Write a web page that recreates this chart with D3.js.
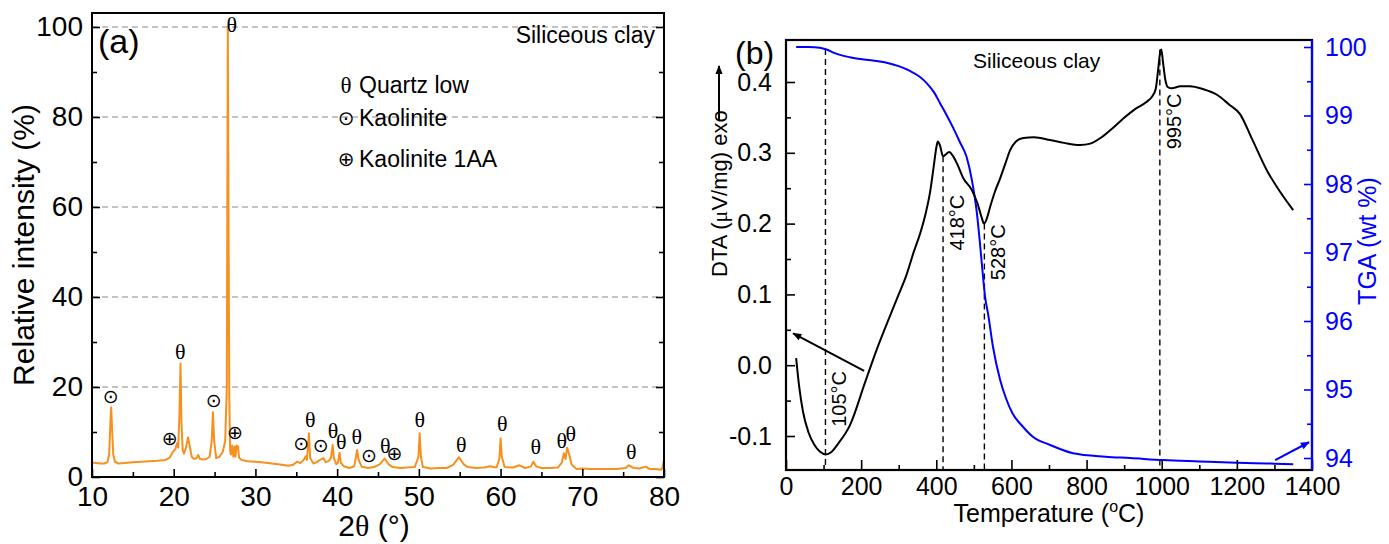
<!DOCTYPE html>
<html>
<head>
<meta charset="utf-8">
<script src="https://cdn.jsdelivr.net/npm/d3@7"></script>
<style>
body { margin: 0; background: #fff; }
svg { font-family: "Liberation Sans", Arial, sans-serif; }
</style>
</head>
<body>
<svg id="fig" width="1389" height="544"></svg>
<script>
// ---- (a) XRD pattern: [2theta, relative intensity]
const xrd = [[10.0,3.2],[10.5,3.1],[11.0,3.0],[11.5,3.0],[11.9,3.3],[12.1,5],[12.25,12],[12.35,15.5],[12.45,11],[12.6,5],[12.8,3.4],[13.2,3.0],
  [14,3.1],[15,3.3],[16,3.4],[17,3.5],[18,3.6],[19,3.8],[19.5,4.3],[19.9,5.6],[20.2,6.2],[20.4,7.5],[20.55,6.5],[20.7,14],[20.83,25.2],
  [20.95,12],[21.1,6],[21.25,5.2],[21.5,6.5],[21.75,8.8],[21.95,7],[22.2,4.5],[22.5,4.0],[22.8,4.2],[23.0,4.9],[23.2,4.0],[23.6,3.9],
  [24.0,4.0],[24.4,4.5],[24.65,8],[24.8,14.4],[24.95,8],[25.2,4.2],[25.6,4.5],[26.0,5.6],[26.3,8],[26.5,20],[26.62,100],[26.7,60],
  [26.8,18],[26.9,6],[27.0,5],[27.15,7],[27.3,4.5],[27.45,6.8],[27.55,4.5],[27.7,7],[27.85,6.8],[28.0,4.3],[28.3,3.8],[29,3.5],[30,3.4],
  [31,3.2],[32,3.0],[33,2.8],[34,2.5],[34.6,2.7],[35.1,3.4],[35.5,3.1],[35.9,3.8],[36.15,4.6],[36.3,3.8],[36.55,9.7],[36.7,4.2],[37.1,3.0],
  [37.5,3.3],[37.9,3.8],[38.3,4.2],[38.6,3.3],[39.0,3.6],[39.25,4.3],[39.45,7.1],[39.6,4.2],[39.9,2.8],[40.1,3.2],[40.3,5.4],[40.45,3.2],
  [40.8,2.4],[41.5,2.0],[42.1,2.4],[42.3,4.5],[42.45,6.0],[42.6,4.0],[43.0,2.3],[43.8,2.0],[44.5,2.2],[45.2,2.8],[45.8,4.1],[46.3,2.8],
  [46.8,2.2],[47.7,2.0],[48.5,2.1],[49.5,2.2],[49.95,4.5],[50.1,9.7],[50.25,4.5],[50.5,2.2],[51.5,1.9],[52.5,2.0],[53.4,2.0],[54.2,2.7],
  [54.9,4.4],[55.5,2.8],[56,2.2],[57,2.0],[58,2.1],[58.7,2.4],[59.5,2.1],[59.85,4],[60.0,8.6],[60.15,4.5],[60.5,2.2],[61.5,2.1],[62.3,2.6],
  [63.0,2.0],[63.7,2.3],[64.0,3.4],[64.4,2.3],[65,2.0],[66,2.0],[67,2.1],[67.5,3.2],[67.75,5.3],[67.95,4.0],[68.15,6.5],[68.4,5.0],
  [68.7,2.8],[69.3,1.8],[70,1.9],[71,1.8],[72.5,1.8],[74.2,1.8],[75.3,2.0],[75.7,2.6],[76.3,2.0],[77,1.9],[77.8,2.3],[78.2,1.8],[79,1.8],
  [79.6,1.6],[79.8,2.0],[80.0,3.8]];
const xrdTicksX = [10, 20, 30, 40, 50, 60, 70, 80];
const xrdTicksY = [0, 20, 40, 60, 80, 100];
// phase markers: [2theta, height of symbol, symbol]
const xrdMarks = [[12.3,18,"⊙"],[19.5,8.7,"⊕"],[20.8,27.8,"θ"],[24.9,17.1,"⊙"],[27.1,100.5,"θ"],[27.5,10,"⊕"],
  [35.6,7.6,"⊙"],[36.7,12.7,"θ"],[38.0,7.1,"⊙"],[39.5,10.4,"θ"],[40.5,8,"θ"],[42.4,8.9,"θ"],[43.9,4.9,"⊙"],
  [45.9,7.1,"θ"],[47.0,5.3,"⊕"],[50.1,12.7,"θ"],[55.2,7.3,"θ"],[60.2,11.8,"θ"],[64.3,6.7,"θ"],[67.5,8.2,"θ"],
  [68.6,9.6,"θ"],[76.0,5.6,"θ"]];
const phases = [["θ", "Quartz low"], ["⊙", "Kaolinite"], ["⊕", "Kaolinite 1AA"]];

// ---- (b) DTA / TGA: [temperature, value]
const dta = [[27,0.01],[35,-0.03],[45,-0.065],[60,-0.095],[75,-0.112],[90,-0.122],[106,-0.126],[120,-0.123],[140,-0.11],
  [170,-0.085],[210,-0.025],[240,0.02],[268,0.058],[300,0.1],[321,0.128],[340,0.16],[357,0.186],[372,0.215],[383,0.243],
  [393,0.28],[401,0.31],[404,0.316],[410,0.31],[418,0.295],[426,0.298],[434,0.301],[445,0.295],[455,0.285],[472,0.264],
  [494,0.248],[510,0.228],[520,0.21],[527,0.2],[535,0.208],[543,0.223],[556,0.245],[570,0.264],[584,0.285],[596,0.303],
  [612,0.316],[632,0.321],[660,0.322],[703,0.318],[740,0.314],[783,0.311],[810,0.313],[840,0.322],[870,0.335],[897,0.348],
  [930,0.362],[960,0.372],[975,0.38],[984,0.39],[990,0.415],[996,0.442],[999,0.446],[1003,0.43],[1009,0.405],[1016,0.393],
  [1027,0.391],[1050,0.394],[1075,0.394],[1110,0.39],[1147,0.382],[1180,0.368],[1208,0.355],[1240,0.32],[1280,0.275],
  [1315,0.245],[1350,0.219]];
const tga = [[27,100.0],[60,100.0],[90,99.99],[110,99.96],[130,99.91],[170,99.85],[220,99.81],[268,99.77],[300,99.72],
  [330,99.65],[355,99.57],[375,99.47],[395,99.33],[410,99.18],[428,99.0],[444,98.83],[462,98.62],[481,98.39],[495,98.05],
  [508,97.58],[516,97.15],[522,96.79],[530,96.35],[538,96.1],[551,95.62],[570,95.14],[585,94.88],[602,94.66],[630,94.46],
  [657,94.31],[703,94.19],[764,94.07],[850,94.02],[916,94.0],[1004,93.97],[1100,93.95],[1200,93.93],[1280,93.92],[1350,93.91]];
const tempTicks = [0, 200, 400, 600, 800, 1000, 1200, 1400];
const dtaTicks = [-0.1, 0.0, 0.1, 0.2, 0.3, 0.4];
const tgaTicks = [94, 95, 96, 97, 98, 99, 100];
const eventTemps = [105, 418, 528, 995];
const eventTops = [["tga", 99.97], ["dta", 0.295], ["dta", 0.2], ["dta", 0.446]];
const eventLabelAt = [-0.087, 0.162, 0.12, 0.305];

const svg = d3.select("#fig");
const defs = svg.append("defs");
defs.append("marker").attr("id", "headK").attr("viewBox", "0 0 10 10").attr("refX", 9).attr("refY", 5)
  .attr("markerWidth", 12).attr("markerHeight", 9).attr("markerUnits", "userSpaceOnUse").attr("orient", "auto")
  .append("path").attr("d", "M0,1 L10,5 L0,9 Z").attr("fill", "#000");
defs.append("marker").attr("id", "headB").attr("viewBox", "0 0 10 10").attr("refX", 9).attr("refY", 5)
  .attr("markerWidth", 12).attr("markerHeight", 9).attr("markerUnits", "userSpaceOnUse").attr("orient", "auto")
  .append("path").attr("d", "M0,1 L10,5 L0,9 Z").attr("fill", "#0000ff");

const fmt1 = v => d3.format(".1f")(v).replace("−", "-");

/* ================= panel (a) ================= */
const ax = d3.scaleLinear().domain([10, 80]).range([92, 664]);
const ay = d3.scaleLinear().domain([0, 100]).range([477, 27]);
const aTop = 13;
const pa = svg.append("g");

// grid
pa.selectAll(".grid").data(xrdTicksY.slice(1)).enter().append("line")
  .attr("x1", ax(10)).attr("x2", ax(80)).attr("y1", d => ay(d)).attr("y2", d => ay(d))
  .attr("stroke", "#888").attr("stroke-width", 1.2).attr("stroke-dasharray", "6,4");

pa.append("path").datum(xrd)
  .attr("d", d3.line().x(d => ax(d[0])).y(d => ay(d[1])))
  .attr("fill", "none").attr("stroke", "#f7901e").attr("stroke-width", 2).attr("stroke-linejoin", "round");

// axes
function styleAxis(g, size) {
  g.select(".domain").remove();
  g.selectAll("line").attr("stroke", "#000").attr("stroke-width", 1.6);
  g.selectAll("text").attr("font-size", size).attr("fill", "#000").attr("font-family", "Liberation Sans, Arial, sans-serif");
}
pa.append("g").attr("transform", `translate(0,${ay(0)})`)
  .call(d3.axisBottom(ax).tickValues(xrdTicksX).tickSize(-8).tickPadding(9).tickFormat(d3.format("d")))
  .call(g => styleAxis(g, 28));
pa.append("g").attr("transform", `translate(0,${ay(0)})`)
  .call(d3.axisBottom(ax).tickValues([15, 25, 35, 45, 55, 65, 75]).tickSize(-5).tickFormat(""))
  .call(g => styleAxis(g, 0));
pa.append("g").attr("transform", `translate(${ax(10)},0)`)
  .call(d3.axisLeft(ay).tickValues(xrdTicksY).tickSize(-8).tickPadding(9).tickFormat(d3.format("d")))
  .call(g => styleAxis(g, 28));
pa.append("g").attr("transform", `translate(${ax(10)},0)`)
  .call(d3.axisLeft(ay).tickValues([10, 30, 50, 70, 90]).tickSize(-5).tickFormat(""))
  .call(g => styleAxis(g, 0));
pa.append("g").attr("transform", `translate(${ax(80)},0)`)
  .call(d3.axisRight(ay).tickValues(xrdTicksY).tickSize(-8).tickFormat(""))
  .call(g => styleAxis(g, 0));
pa.append("g").attr("transform", `translate(${ax(80)},0)`)
  .call(d3.axisRight(ay).tickValues([10, 30, 50, 70, 90]).tickSize(-5).tickFormat(""))
  .call(g => styleAxis(g, 0));
pa.append("rect").attr("x", ax(10)).attr("y", aTop).attr("width", ax(80) - ax(10)).attr("height", ay(0) - aTop)
  .attr("fill", "none").attr("stroke", "#000").attr("stroke-width", 2);

// phase markers
pa.selectAll(".mk").data(xrdMarks).enter().append("text")
  .attr("x", d => ax(d[0])).attr("y", d => ay(d[1]))
  .attr("text-anchor", "middle").attr("dominant-baseline", "central")
  .attr("font-family", d => d[2] === "θ" ? "Liberation Serif, serif" : "DejaVu Sans, sans-serif")
  .attr("font-size", d => d[2] === "θ" ? 22 : 19)
  .text(d => d[2]);

// legend
const legY = [93, 126, 167];
const leg = pa.selectAll(".leg").data(phases).enter().append("g")
  .attr("transform", (d, i) => `translate(340,${legY[i]})`);
leg.append("text").attr("x", 6).attr("text-anchor", "middle")
  .attr("font-family", d => d[0] === "θ" ? "Liberation Serif, serif" : "DejaVu Sans, sans-serif")
  .attr("font-size", d => d[0] === "θ" ? 23 : 20).attr("y", d => d[0] === "θ" ? 0 : -1).text(d => d[0]);
leg.append("text").attr("x", 19).attr("font-size", 23).text(d => d[1]);

pa.append("text").attr("x", 98).attr("y", 53).attr("font-size", 34).text("(a)");
pa.append("text").attr("x", 655).attr("y", 43).attr("text-anchor", "end").attr("font-size", 23).text("Siliceous clay");
pa.append("text").attr("transform", "translate(34,245) rotate(-90)").attr("text-anchor", "middle")
  .attr("font-size", 30).text("Relative intensity (%)");
const xt = pa.append("text").attr("x", 374).attr("y", 536).attr("text-anchor", "middle").attr("font-size", 30);
xt.append("tspan").text("2");
xt.append("tspan").attr("font-family", "Liberation Serif, serif").text("θ");
xt.append("tspan").text(" (°)");

/* ================= panel (b) ================= */
const bx = d3.scaleLinear().domain([0, 1400]).range([786, 1312]);
const by = d3.scaleLinear().domain([-0.1, 0.4]).range([436, 82]);
const ty = d3.scaleLinear().domain([94, 100]).range([458, 47]);
const bTop = 40, bBot = 470;
const pb = svg.append("g");

// event lines
pb.selectAll(".ev").data(eventTemps).enter().append("line")
  .attr("x1", d => bx(d)).attr("x2", d => bx(d))
  .attr("y1", (d, i) => eventTops[i][0] === "tga" ? ty(eventTops[i][1]) : by(eventTops[i][1]))
  .attr("y2", bBot)
  .attr("stroke", "#000").attr("stroke-width", 1.4).attr("stroke-dasharray", "6,4");
pb.selectAll(".evl").data(eventTemps).enter().append("text")
  .attr("transform", (d, i) => `translate(${bx(d) + 21},${by(eventLabelAt[i])}) rotate(-90)`)
  .attr("font-size", 20).text(d => d + "°C");

pb.append("path").datum(tga)
  .attr("d", d3.line().curve(d3.curveMonotoneX).x(d => bx(d[0])).y(d => ty(d[1])))
  .attr("fill", "none").attr("stroke", "#0000ff").attr("stroke-width", 2);
pb.append("path").datum(dta)
  .attr("d", d3.line().curve(d3.curveMonotoneX).x(d => bx(d[0])).y(d => by(d[1])))
  .attr("fill", "none").attr("stroke", "#000").attr("stroke-width", 2);

// axes
pb.append("g").attr("transform", `translate(0,${bBot})`)
  .call(d3.axisBottom(bx).tickValues(tempTicks).tickSize(-10).tickPadding(7).tickFormat(d3.format("d")))
  .call(g => styleAxis(g, 25));
pb.append("g").attr("transform", `translate(0,${bBot})`)
  .call(d3.axisBottom(bx).tickValues([100, 300, 500, 700, 900, 1100, 1300]).tickSize(-5).tickFormat(""))
  .call(g => styleAxis(g, 0));
pb.append("g").attr("transform", `translate(${bx(0)},0)`)
  .call(d3.axisLeft(by).tickValues(dtaTicks).tickSize(-9).tickPadding(14).tickFormat(fmt1))
  .call(g => styleAxis(g, 25));
pb.append("g").attr("transform", `translate(${bx(0)},0)`)
  .call(d3.axisLeft(by).tickValues([-0.05, 0.05, 0.15, 0.25, 0.35]).tickSize(-5).tickFormat(""))
  .call(g => styleAxis(g, 0));
pb.append("rect").attr("x", bx(0)).attr("y", bTop).attr("width", bx(1400) - bx(0)).attr("height", bBot - bTop)
  .attr("fill", "none").attr("stroke", "#000").attr("stroke-width", 2.2);
const ra = pb.append("g").attr("transform", `translate(${bx(1400)},0)`)
  .call(d3.axisRight(ty).tickValues(tgaTicks).tickSize(-8).tickPadding(13).tickFormat(d3.format("d")))
  .call(g => styleAxis(g, 25));
ra.selectAll("line").attr("stroke", "#0000ff");
ra.selectAll("text").attr("fill", "#0000ff");
pb.append("g").attr("transform", `translate(${bx(1400)},0)`)
  .call(d3.axisRight(ty).tickValues([94.5, 95.5, 96.5, 97.5, 98.5, 99.5]).tickSize(-5).tickFormat(""))
  .call(g => { styleAxis(g, 0); g.selectAll("line").attr("stroke", "#0000ff"); });
pb.append("line").attr("x1", bx(1400)).attr("x2", bx(1400)).attr("y1", bTop).attr("y2", bBot)
  .attr("stroke", "#0000ff").attr("stroke-width", 2.2);

// arrows pointing to the axes
pb.append("line").attr("x1", bx(208)).attr("y1", by(-0.008)).attr("x2", bx(19)).attr("y2", by(0.045))
  .attr("stroke", "#000").attr("stroke-width", 2).attr("marker-end", "url(#headK)");
pb.append("line").attr("x1", bx(1302)).attr("y1", ty(93.97)).attr("x2", bx(1392)).attr("y2", ty(94.23))
  .attr("stroke", "#0000ff").attr("stroke-width", 2).attr("marker-end", "url(#headB)");

// labels
pb.append("text").attr("x", 735).attr("y", 64).attr("font-size", 32).text("(b)");
pb.append("text").attr("x", 973).attr("y", 68).attr("font-size", 21).text("Siliceous clay");
const tt = pb.append("text").attr("x", 1049).attr("y", 522).attr("text-anchor", "middle").attr("font-size", 25);
tt.append("tspan").text("Temperature (");
tt.append("tspan").attr("font-size", 16).attr("dy", -10).text("o");
tt.append("tspan").attr("dy", 10).text("C)");
pb.append("text").attr("transform", "translate(1376,241) rotate(-90)").attr("text-anchor", "middle")
  .attr("font-size", 25).attr("fill", "#0000ff").text("TGA (wt %)");
const dt = pb.append("text").attr("transform", "translate(727,277) rotate(-90)").attr("font-size", 22);
dt.append("tspan").text("DTA  (");
dt.append("tspan").attr("font-family", "Liberation Serif, serif").text("μ");
dt.append("tspan").text("V/mg)  exo");
pb.append("line").attr("x1", 719).attr("x2", 719).attr("y1", 120).attr("y2", 66)
  .attr("stroke", "#000").attr("stroke-width", 2).attr("marker-end", "url(#headK)");
</script>
</body>
</html>
